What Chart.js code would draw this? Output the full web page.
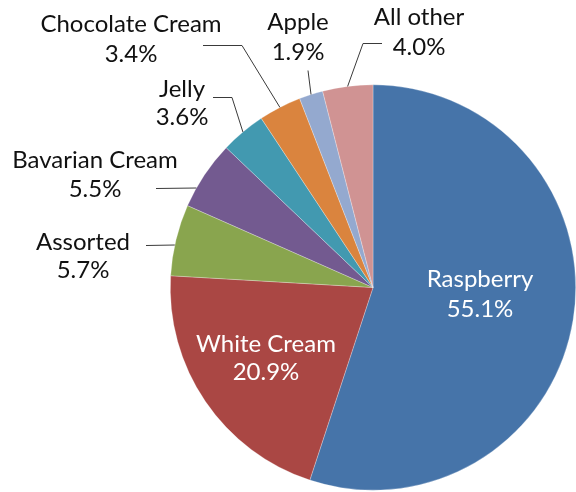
<!DOCTYPE html>
<html>
<head>
<meta charset="utf-8">
<script src="https://cdn.jsdelivr.net/npm/chart.js@4"></script>
<style>
  html, body { margin: 0; padding: 0; background: #ffffff; }
  #wrap { width: 576px; height: 492px; }
</style>
</head>
<body>
<div id="wrap"><canvas id="c" width="576" height="492"></canvas></div>
<script>
// ---- data ----
const categories = ["Raspberry", "White Cream", "Assorted", "Bavarian Cream", "Jelly", "Chocolate Cream", "Apple", "All other"];
const shares = [55.1, 20.9, 5.7, 5.5, 3.6, 3.4, 1.9, 4.0];
const shareLabels = ["55.1%", "20.9%", "5.7%", "5.5%", "3.6%", "3.4%", "1.9%", "4.0%"];

// ---- styles ----
const sliceColors = ["#4674A9", "#AA4744", "#89A54E", "#735A90", "#4299B0", "#DA843E", "#94A9CF", "#D09393"];
const FONT = "24px Lato, 'Open Sans', sans-serif";

// ---- label layout (text baselines / centers, leader elbows) ----
const labelLayout = [
  { x: 480, y1: 287, y2: 317, color: "#ffffff" },
  { x: 266, y1: 352, y2: 380, color: "#ffffff" },
  { x: 83,  y1: 250, y2: 278, color: "#111", leader: [[146, 245]], mode: "h" },
  { x: 95,  y1: 168, y2: 197, color: "#111", leader: [[156, 188]], mode: "h" },
  { x: 182, y1: 97,  y2: 125, color: "#111", leader: [[213, 97], [232, 97]], mode: "m" },
  { x: 131, y1: 32,  y2: 62,  color: "#111", leader: [[203, 45], [242, 45]], mode: "m" },
  { x: 298, y1: 30,  y2: 60,  color: "#111", leader: [[308, 70]], mode: "m" },
  { x: 419, y1: 25,  y2: 55,  color: "#111", leader: [[382, 43], [363, 43]], mode: "m" }
];

const labelPlugin = {
  id: "sliceLabels",
  afterDatasetsDraw(chart) {
    const ctx = chart.ctx;
    const meta = chart.getDatasetMeta(0);
    ctx.save();
    meta.data.forEach((arc, i) => {
      const p = arc.getProps(["x", "y", "startAngle", "endAngle", "outerRadius"], true);
      const L = labelLayout[i];
      if (L.leader) {
        let ex, ey;
        const last = L.leader[L.leader.length - 1];
        if (L.mode === "h") {
          ey = last[1];
          const dy = ey - p.y;
          ex = p.x - Math.sqrt(Math.max(p.outerRadius * p.outerRadius - dy * dy, 0));
        } else {
          const mid = (p.startAngle + p.endAngle) / 2;
          ex = p.x + p.outerRadius * Math.cos(mid);
          ey = p.y + p.outerRadius * Math.sin(mid);
        }
        ctx.beginPath();
        ctx.strokeStyle = "#3a3a3a";
        ctx.lineWidth = 1;
        ctx.moveTo(L.leader[0][0], L.leader[0][1] + 0.5);
        for (let k = 1; k < L.leader.length; k++) ctx.lineTo(L.leader[k][0], L.leader[k][1] + 0.5);
        ctx.lineTo(ex, ey);
        ctx.stroke();
      }
      ctx.fillStyle = L.color;
      ctx.font = FONT;
      ctx.textAlign = "center";
      ctx.textBaseline = "alphabetic";
      ctx.fillText(categories[i], L.x, L.y1);
      ctx.fillText(shareLabels[i], L.x, L.y2);
    });
    ctx.restore();
  }
};

new Chart(document.getElementById("c"), {
  type: "pie",
  data: {
    labels: categories,
    datasets: [{
      data: shares,
      backgroundColor: sliceColors,
      borderColor: "rgba(255,255,255,0.45)",
      borderWidth: 0.6
    }]
  },
  options: {
    responsive: false,
    animation: false,
    layout: { padding: { left: 170, right: 0, top: 84, bottom: 1 } },
    plugins: {
      legend: { display: false },
      tooltip: { enabled: false }
    }
  },
  plugins: [labelPlugin]
});
</script>
</body>
</html>
